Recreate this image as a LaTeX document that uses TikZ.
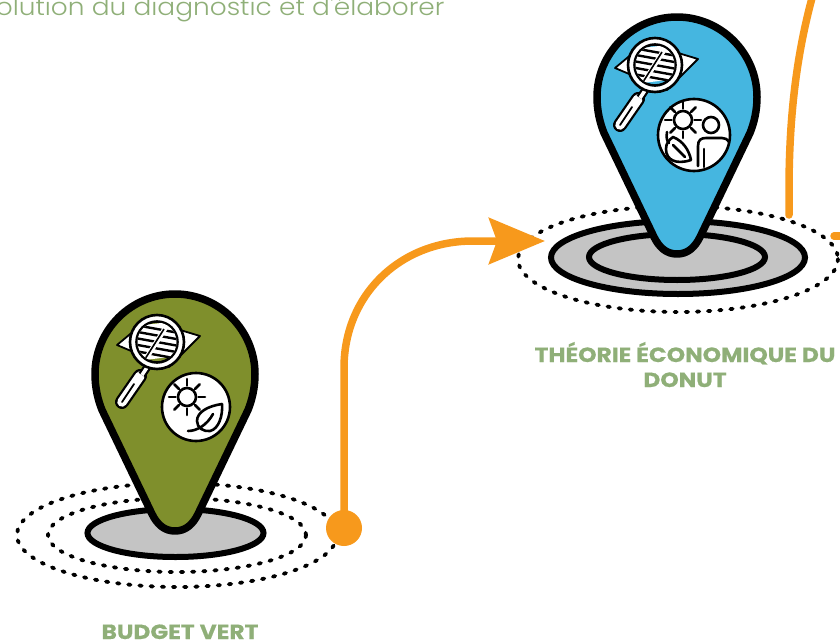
\documentclass[tikz,border=0pt]{standalone}
\usepackage{fontspec}
\setmainfont{Poppins}
\newfontfamily\titlefont{Poppins}[FakeStretch=1.14,FakeBold=0.5]
\newfontfamily\introfont{Poppins Light}[FakeStretch=1.1]
\usetikzlibrary{arrows.meta}
\definecolor{sage}{HTML}{8FAF78}
\definecolor{flow}{HTML}{F7991C}
\definecolor{olive}{HTML}{7F8F2C}
\definecolor{sky}{HTML}{45B6E0}
\definecolor{disc}{HTML}{C4C4C4}
\tikzset{
  ring/.style={draw=black,line width=6pt,fill=disc},
  dots/.style={draw=black,line width=3.8pt,line cap=round,dash pattern=on 2.4pt off 8.8pt},
  flowline/.style={draw=flow,line width=7.5pt},
  title/.style={text=sage,font=\titlefont\bfseries\fontsize{20.5}{25}\selectfont,align=center},
  thin line/.style={line width=2.6pt,line cap=round},
  pinbody/.pic={
    \draw[line width=7.5pt,fill=#1,line join=round] (-80,0) .. controls (-80,-44) and (-44,-80) .. (0,-80)
      .. controls (44,-80) and (80,-44) .. (80,0) .. controls (80,14) and (77,26) .. (73,36)
      -- (23,140) .. controls (18,150) and (11,157) .. (0,157)
      .. controls (-11,157) and (-18,150) .. (-23,140)
      -- (-73,36) .. controls (-77,26) and (-80,14) .. (-80,0) -- cycle;
  },
  lens/.pic={
    \draw[line width=1.8pt,fill=white,line join=round] (-40,3) -- (-10,-22) -- (43,-6) -- (12,25) -- cycle;
    \draw[line width=14pt,line cap=round] (-17,34) -- (-35,60);
    \draw[line width=9.5pt,white,line cap=round] (-17,34) -- (-35,60);
    \draw[thin line,line width=1.8pt] (-23,42) -- (-35,60);
    \draw[line width=8pt] (-9,24) -- (-15,33);
    \draw[line width=3.5pt,white] (-9,24) -- (-15,33);
    \draw[line width=2.6pt,fill=white] (0,0) circle (27);
    \draw[line width=2.6pt,fill=#1] (0,0) circle (20.5);
    \begin{scope}
      \clip (0,0) circle (19.5);
      \fill[white] (-30,-15) -- (30,-22) -- (30,13) -- (-30,20) -- cycle;
      \foreach \ypos in {-13,-6.5,0,6.5,13}
        \draw[line width=2.4pt] (-22,\ypos-4) -- (22,\ypos+4);
      \draw[line width=5pt,white] (-10,15) -- (9,-15);
      \draw[line width=1.6pt] (-12,17) -- (7,-13);
    \end{scope}
  },
  sun/.pic={
    \draw[thin line] (0,0) circle (9);
    \foreach \ang in {0,45,...,315}
      \draw[thin line] (\ang:11.5) -- (\ang:18);
  }
}
\begin{document}
\begin{tikzpicture}[x=1pt,y=-1pt]
\clip (0,0) rectangle (840,642);
% text at the top
\node (introtext) [anchor=base east,text=sage,font=\introfont\fontsize{24}{26}\selectfont] at (448,16) {olution du diagnostic et d'élaborer};
% rings under the pins
\draw[dots] (177,535) ellipse (160 and 52);
\draw[dots] (177,535) ellipse (129 and 37);
\draw[ring] (175.5,533) ellipse (88 and 24);
\draw[dots] (678,259) ellipse (160 and 53);
\draw[ring] (678,257.5) ellipse (127 and 36.5);
\draw[ring] (677,257) ellipse (88 and 23);
% connectors
\node (budgetdot) [circle,fill=flow,minimum size=36pt,inner sep=0pt] at (344,528) {};
\coordinate (donutin) at (545,241);
\coordinate (nextout) at (812,-2);
\coordinate (nextfoot) at (789,215);
\draw[flowline,-{Stealth[length=56pt,width=46pt,inset=8pt]}] (budgetdot.center) -- (344,368)
  .. controls (344,295) and (400,241) .. (473,241) -- (donutin);
\draw[flowline,line cap=round] (nextfoot) -- (789,190) .. controls (789,110) and (798,50) .. (nextout);
\draw[flowline,line cap=round] (834,236) -- (846,236);
% blue pin
\pic at (677,97) {pinbody=sky};
\pic at (655,65) {lens=sky};
\node (donuticon) [circle,draw=black,line width=2.6pt,fill=white,minimum size=72pt,inner sep=0pt] at (694,135) {};
\pic at (683,120) {sun};
\draw[thin line] (711,125) circle (8);
\draw[thin line] (698,166) -- (698,146) .. controls (698,140) and (701,138) .. (706,138)
  -- (722,138) .. controls (725,138) and (727,139) .. (729,142);
\draw[thin line] (704,167) -- (704,149);
\draw[thin line,line join=round] (691,160) .. controls (676,165) and (666,160) .. (666,149)
  .. controls (666,143) and (669,140) .. (673,137) .. controls (683,141) and (689,150) .. (691,160);
\draw[thin line] (667,132) .. controls (666,138) and (667,141) .. (669,143);
\draw[thin line] (673,145) -- (685,157);
% green pin
\pic at (175,374) {pinbody=olive};
\pic at (157,342) {lens=olive};
\node (budgeticon) [circle,draw=black,line width=2.6pt,fill=white,minimum size=68pt,inner sep=0pt] at (196,407) {};
\pic at (187,397) {sun};
\draw[thin line,line join=round] (222,404) .. controls (208,406) and (197,412) .. (197,421)
  .. controls (197,428) and (204,432) .. (210,431) .. controls (219,429) and (223,415) .. (222,404);
\draw[thin line] (188,431) .. controls (197,431) and (207,425) .. (213,414);
% labels
\node (donutlabel) [title,anchor=base] at (685,387) {THÉORIE ÉCONOMIQUE DU\\DONUT};
\node (budgetlabel) [title,anchor=base] at (180,639) {BUDGET VERT};
\end{tikzpicture}
\end{document}
